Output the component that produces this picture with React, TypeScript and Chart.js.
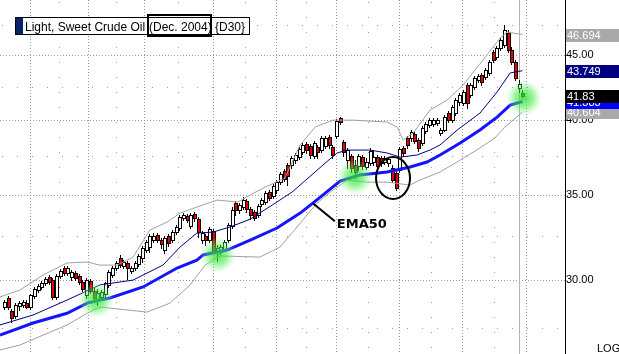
import React, { useEffect, useRef } from 'react';
import { Chart, registerables } from 'chart.js';
Chart.register(...registerables);

// ---- Daily candles (price) ----
const opens = [28.58,29.05,28.37,28.12,28.63,28.68,28.78,28.58,29.15,29.47,
29.63,29.84,30.17,30.00,29.10,30.22,30.66,30.39,30.17,30.39,
30.22,29.89,29.21,29.95,29.42,28.99,29.10,29.26,29.74,30.28,
30.66,31.21,30.77,30.94,30.50,30.66,30.88,31.21,31.67,31.84,
32.24,32.54,32.24,31.67,32.48,32.24,32.71,32.95,33.54,33.66,
33.07,33.79,33.48,32.24,32.48,32.24,32.77,31.56,31.56,31.73,
32.24,33.07,34.47,34.03,34.22,34.59,34.09,33.91,33.72,34.40,
34.53,35.15,34.90,35.28,35.79,36.51,36.91,36.91,37.24,37.44,
37.78,38.33,38.20,37.51,38.13,37.92,38.20,38.82,38.13,38.89,
40.17,38.47,37.24,37.51,36.91,36.84,37.44,36.78,37.04,37.11,
37.44,37.38,37.11,37.04,36.71,36.38,36.58,38.06,38.75,38.75,
39.03,38.61,38.40,39.24,39.67,39.74,39.81,39.10,39.31,40.53,
40.02,40.53,41.34,41.27,42.64,41.87,42.48,43.02,43.41,43.25,
43.57,45.24,44.83,45.57,45.82,46.82,45.40,44.43,42.41,42.02];
const closes = [28.84,28.58,28.02,28.68,28.78,28.84,28.58,29.21,29.52,29.68,
29.84,30.06,29.89,29.10,30.22,30.50,30.39,30.66,30.44,30.11,
29.89,29.52,30.00,29.42,29.05,29.31,29.36,29.84,30.44,30.66,
30.94,30.82,30.99,30.66,30.66,30.94,31.33,31.79,32.12,32.48,
32.48,32.24,32.01,32.36,32.07,32.71,33.01,33.60,33.72,33.42,
33.72,33.54,32.71,32.65,32.24,32.89,31.61,31.79,31.84,32.12,
33.12,34.03,34.03,34.34,34.65,34.09,33.72,33.54,34.28,34.65,
35.09,34.78,35.54,35.79,36.32,35.99,36.18,37.38,37.58,37.99,
38.27,37.92,37.58,38.40,37.78,38.75,38.75,38.27,37.58,39.95,
39.88,37.78,37.92,36.71,36.45,37.51,36.84,37.11,37.85,37.44,
36.84,37.04,37.38,37.31,35.92,35.41,37.99,37.72,38.27,39.17,
38.54,38.06,39.45,39.74,40.02,40.02,40.02,39.31,40.24,40.02,
40.97,41.49,41.87,42.10,41.27,42.64,43.18,43.33,42.87,43.80,
44.43,44.59,45.57,46.23,47.07,45.40,44.43,43.18,42.71,41.83];
const highs = [28.94,29.15,28.47,28.78,28.89,28.94,28.94,29.26,29.63,29.79,
29.95,30.17,30.28,30.11,30.33,30.61,30.77,30.77,30.55,30.50,
30.33,30.00,30.11,30.06,29.58,29.52,29.47,29.89,30.55,30.77,
31.05,31.39,31.10,31.04,30.77,31.05,31.44,31.90,32.24,32.59,
32.65,32.65,32.36,32.48,32.59,32.83,33.12,33.72,33.85,33.79,
33.85,33.91,33.60,32.77,32.59,33.01,32.89,31.96,31.96,32.24,
33.24,34.22,34.59,34.46,34.84,34.71,34.22,34.03,34.40,34.78,
35.22,35.28,35.66,35.92,36.45,36.65,37.04,37.51,37.72,38.13,
38.40,38.47,38.33,38.54,38.27,38.89,38.89,38.96,38.27,40.09,
40.24,38.61,38.06,37.65,37.24,37.65,37.58,37.38,38.06,37.92,
37.58,37.51,37.51,37.44,36.91,36.58,38.13,38.20,38.89,39.31,
39.17,38.75,39.59,39.88,40.17,40.17,40.17,39.45,40.39,40.68,
41.12,41.64,42.02,42.25,42.79,42.79,43.33,43.49,43.57,43.96,
44.59,45.40,45.73,46.40,47.50,47.07,45.65,44.59,43.02,42.25];
const lows = [28.47,28.47,27.82,28.02,28.42,28.58,28.52,28.47,29.05,29.36,
29.52,29.74,29.79,28.99,28.99,30.11,30.28,30.28,30.00,30.00,
29.79,29.42,29.05,29.31,28.84,28.68,28.99,29.10,29.63,30.17,
30.55,30.72,30.66,30.06,30.39,30.55,30.77,30.99,31.56,31.56,
32.12,32.12,31.79,31.50,31.90,32.12,32.59,32.83,33.42,33.30,
32.95,33.36,32.42,32.07,31.96,32.12,31.50,31.04,31.44,31.61,
32.12,32.95,33.72,33.85,34.09,33.91,33.48,33.42,33.60,34.28,
34.40,34.65,34.78,35.09,35.66,35.86,35.60,36.71,37.04,37.31,
37.65,37.72,37.38,37.38,37.38,37.78,38.06,38.06,37.38,38.75,
39.74,37.51,36.71,36.45,36.05,36.58,36.65,36.65,36.91,36.91,
36.71,36.84,36.98,36.84,35.79,35.28,36.45,37.51,38.06,38.54,
38.40,37.85,38.27,39.10,39.52,39.59,39.67,38.96,39.24,39.88,
39.88,40.39,41.12,41.12,40.90,41.72,42.33,42.87,42.64,43.10,
43.41,44.43,44.67,45.40,45.65,45.24,44.27,43.02,42.10,41.72];

// ---- Indicator lines (bar index, price) ----
const emaIdx = [-1.1,7.8,16.9,22.3,25.7,28.4,37.3,46.4,51.7,53.4,59.8,66,73.2,79.4,82.8,90.1,95.4,102.7,108.9,113.4,116.9,122.3,127.6,132.2,135.7,139];
const emaVal = [27.17,27.77,28.26,28.78,28.94,29.05,29.63,30.66,31.10,31.39,31.67,32.24,32.95,33.85,34.46,35.86,36.25,36.45,36.78,37.11,37.58,38.40,39.31,40.24,41.12,41.383];
const maIdx = [-1.1,7.8,16.9,25.7,34.6,42.6,47.2,51.7,56,60.6,66,71.9,77.2,83.4,86.1,89.3,92,98.1,102.7,106.2,110.7,114.2,116.9,121.5,127.6,132.2,135.7,139];
const maVal = [27.67,28.17,28.94,29.74,30.00,30.82,31.84,32.65,32.71,33.01,33.48,34.34,35.15,36.45,37.04,37.72,37.92,37.92,37.72,37.44,37.58,37.92,38.27,39.31,40.53,42.10,43.57,43.749];
const bbUpIdx = [-1.1,4.3,10.5,16.9,22.3,25.7,30.3,34.6,39.1,43.7,47.2,51.7,57.1,62.7,66,70,75.3,79.4,83.4,88.2,93.6,102.7,105.4,107,109.7,114.2,118.8,123.1,128.4,133,134.9,139];
const bbUpVal = [29.10,29.47,30.28,30.94,30.99,30.82,30.82,31.27,32.83,33.30,33.85,34.22,34.65,34.53,34.97,35.47,36.05,38.27,39.52,40.02,40.02,39.88,39.52,38.61,39.10,40.75,41.49,42.64,44.59,46.40,46.90,46.694];
const bbLoIdx = [-1.1,4.3,10.5,16.9,22.3,25.7,38.3,44.5,49.9,53.9,57.9,68.6,74,79.4,83.9,88.2,92,97.3,102.7,108.8,111.5,116.9,122.3,127.6,131.6,134.3,139];
const bbLoVal = [26.45,26.69,27.17,27.67,28.26,28.58,28.32,28.78,29.74,30.82,31.33,31.27,31.84,33.24,34.46,35.28,35.92,35.79,35.79,35.60,35.92,36.45,37.24,38.06,38.75,39.52,40.604];

// ---- Axis / grid ----
const yTicks = [30, 35, 40, 45];
const yMinor = [27.5, 32.5, 37.5, 42.5, 47.5];
const xGridIdx = [7, 22.5, 37.5, 56, 73, 89, 106, 122.8, 140];
const lastBarLineIdx = 138.1;

// ---- Annotations (bar index, price) ----
const glowIdx = [24.7, 57.4, 94.1, 139.4];
const glowVal = [28.94, 31.39, 36.12, 41.64];
const ellipseIdx = 104.3;
const ellipseVal = 36.05;
const emaLabelIdx = 82.8;
const emaLabelVal = 34.46;

// ---- Right-side value boxes ----
const valueBoxes = [
  { v: 40.604, text: '40.604', bg: '#a9a9a9' },
  { v: 41.383, text: '41.383', bg: '#0000ff' },
  { v: 41.83, text: '41.83', bg: '#000000' },
  { v: 43.749, text: '43.749', bg: '#000080' },
  { v: 46.694, text: '46.694', bg: '#a9a9a9' },
];

const SANS = '"Liberation Sans", Arial, sans-serif';

const pts = (xs: number[], ys: number[]) => xs.map((x, k) => ({ x, y: ys[k] }));

const backPlugin = {
  id: 'backLayer',
  beforeDatasetsDraw(chart: any) {
    const { ctx, chartArea: ca, scales } = chart;
    const x = scales.x, y = scales.y;
    ctx.save();
    ctx.beginPath();
    ctx.rect(ca.left, ca.top, ca.right - ca.left, ca.bottom - ca.top);
    ctx.clip();
    ctx.lineWidth = 1;
    ctx.strokeStyle = '#9a9a9a';
    ctx.setLineDash([1, 2]);
    for (const v of yTicks) {
      const py = Math.round(y.getPixelForValue(v)) + 0.5;
      ctx.beginPath(); ctx.moveTo(ca.left, py); ctx.lineTo(ca.right, py); ctx.stroke();
    }
    for (const g of xGridIdx) {
      const px = Math.round(x.getPixelForValue(g)) + 0.5;
      ctx.beginPath(); ctx.moveTo(px, ca.top); ctx.lineTo(px, ca.bottom); ctx.stroke();
    }
    ctx.setLineDash([1, 14]);
    for (const v of yMinor) {
      const py = Math.round(y.getPixelForValue(v)) + 0.5;
      ctx.beginPath(); ctx.moveTo(ca.left + 2, py); ctx.lineTo(ca.right, py); ctx.stroke();
    }
    for (let k = 0; k < xGridIdx.length - 1; k++) {
      const px = Math.round(x.getPixelForValue((xGridIdx[k] + xGridIdx[k + 1]) / 2)) + 0.5;
      ctx.beginPath(); ctx.moveTo(px, ca.top + 2); ctx.lineTo(px, ca.bottom); ctx.stroke();
    }
    ctx.setLineDash([]);
    ctx.strokeStyle = '#b4b4b4';
    const lx = Math.round(x.getPixelForValue(lastBarLineIdx)) + 0.5;
    ctx.beginPath(); ctx.moveTo(lx, ca.top); ctx.lineTo(lx, ca.bottom); ctx.stroke();

    // candles
    for (let i = 0; i < closes.length; i++) {
      const px = Math.round(x.getPixelForValue(i));
      const yh = Math.round(y.getPixelForValue(highs[i]));
      const yl = Math.round(y.getPixelForValue(lows[i]));
      const yo = Math.round(y.getPixelForValue(opens[i]));
      const yc = Math.round(y.getPixelForValue(closes[i]));
      ctx.fillStyle = '#000';
      ctx.fillRect(px, yh, 1, yl - yh + 1);
      const top = Math.min(yo, yc), bot = Math.max(yo, yc);
      ctx.fillRect(px - 1, top, 4, bot - top + 1);
      if (bot - top >= 2) {
        ctx.fillStyle = closes[i] >= opens[i] ? '#ffffff' : '#e60000';
        ctx.fillRect(px, top + 1, 2, bot - top - 1);
      }
    }
    ctx.restore();
  },
  afterDatasetsDraw(chart: any) {
    const { ctx, chartArea: ca, scales } = chart;
    const x = scales.x, y = scales.y;
    ctx.save();
    ctx.beginPath();
    ctx.rect(ca.left, ca.top, ca.right - ca.left, ca.bottom - ca.top);
    ctx.clip();
    // glows
    for (let k = 0; k < glowIdx.length; k++) {
      const cx = x.getPixelForValue(glowIdx[k]);
      const cy = y.getPixelForValue(glowVal[k]);
      const g = ctx.createRadialGradient(cx, cy, 0, cx, cy, 18);
      g.addColorStop(0, 'rgba(40,225,40,0.8)');
      g.addColorStop(0.5, 'rgba(70,235,70,0.55)');
      g.addColorStop(0.8, 'rgba(120,245,120,0.25)');
      g.addColorStop(1, 'rgba(160,255,160,0)');
      ctx.fillStyle = g;
      ctx.beginPath(); ctx.arc(cx, cy, 18, 0, Math.PI * 2); ctx.fill();
    }
    // ellipse
    const ex = x.getPixelForValue(ellipseIdx), ey = y.getPixelForValue(ellipseVal);
    ctx.strokeStyle = '#000'; ctx.lineWidth = 2;
    ctx.beginPath(); ctx.ellipse(ex, ey, 17, 21, 0, 0, Math.PI * 2); ctx.stroke();
    // EMA50 callout
    const ax = x.getPixelForValue(emaLabelIdx), ay = y.getPixelForValue(emaLabelVal);
    ctx.beginPath(); ctx.moveTo(ax, ay); ctx.lineTo(ax + 22, ay + 18); ctx.stroke();
    ctx.fillStyle = '#000';
    ctx.font = 'bold 13px "DejaVu Sans", Verdana, sans-serif';
    ctx.textBaseline = 'alphabetic';
    ctx.textAlign = 'left';
    ctx.fillText('EMA50', ax + 24, ay + 24.5);
    ctx.restore();
  },
  afterDraw(chart: any) {
    const { ctx, scales, chartArea: ca } = chart;
    const y = scales.y;
    ctx.save();
    // value boxes on the right axis
    ctx.font = '11px ' + SANS;
    ctx.textBaseline = 'middle';
    ctx.textAlign = 'left';
    for (const b of valueBoxes) {
      const cy = Math.round(y.getPixelForValue(b.v));
      ctx.fillStyle = b.bg;
      ctx.fillRect(ca.right + 1, cy - 6, chart.width - ca.right - 1, 13);
      ctx.fillStyle = '#fff';
      ctx.fillText(b.text, ca.right + 2, cy + 0.5);
    }
    // LOG
    ctx.fillStyle = '#000';
    ctx.textBaseline = 'alphabetic';
    ctx.fillText('LOG', 597, 352);
    // legend box
    ctx.fillStyle = '#fff';
    ctx.fillRect(16, 18, 233, 16);
    ctx.strokeStyle = '#000'; ctx.lineWidth = 1;
    ctx.strokeRect(15.5, 17.5, 234, 17);
    ctx.fillStyle = '#0a246a';
    ctx.fillRect(16, 18, 7, 16);
    ctx.fillStyle = '#000';
    ctx.font = '12px ' + SANS;
    ctx.fillText('Light, Sweet Crude Oil', 25, 31);
    ctx.fillText('(Dec. 2004)', 149, 31);
    ctx.fillText('{D30}', 215, 31);
    ctx.lineWidth = 2;
    ctx.strokeRect(148, 15, 63, 21);
    ctx.restore();
  },
};

export default function App() {
  const ref = useRef<HTMLCanvasElement | null>(null);
  useEffect(() => {
    document.body.style.margin = '0';
    const canvas = ref.current!;
    const ppu = 3.73;
    const xMin = -4 / ppu;
    const xMax = xMin + 565 / ppu;
    const chart = new Chart(canvas, {
      type: 'line',
      data: {
        datasets: [
          { label: 'BB upper', data: pts(bbUpIdx, bbUpVal), borderColor: '#a0a0a0', borderWidth: 1, pointRadius: 0, tension: 0 },
          { label: 'BB lower', data: pts(bbLoIdx, bbLoVal), borderColor: '#a0a0a0', borderWidth: 1, pointRadius: 0, tension: 0 },
          { label: 'MA20', data: pts(maIdx, maVal), borderColor: '#000080', borderWidth: 1, pointRadius: 0, tension: 0 },
          { label: 'EMA50', data: pts(emaIdx, emaVal), borderColor: '#1414ff', borderWidth: 3, pointRadius: 0, tension: 0 },
        ],
      },
      options: {
        animation: false,
        responsive: false,
        devicePixelRatio: 1,
        layout: { padding: 0 },
        plugins: { legend: { display: false }, tooltip: { enabled: false }, title: { display: false } },
        scales: {
          x: { type: 'linear', display: false, min: xMin, max: xMax },
          y: {
            type: 'logarithmic',
            position: 'right',
            min: 26.26,
            max: 49.69,
            afterBuildTicks: (s: any) => { s.ticks = yTicks.map((v) => ({ value: v })); },
            afterFit: (s: any) => { s.width = 54; s.paddingTop = 0; s.paddingBottom = 0; },
            grid: { display: false, drawTicks: false },
            border: { display: true, color: '#000', width: 1 },
            ticks: {
              color: '#000',
              padding: 1,
              autoSkip: false,
              font: { family: SANS, size: 11 },
              callback: (v: any) => Number(v).toFixed(2),
            },
          },
        },
      },
      plugins: [backPlugin],
    } as any);
    return () => chart.destroy();
  }, []);
  return (
    <div style={{ position: 'absolute', left: 0, top: 0, width: 619, height: 354, background: '#fff' }}>
      <canvas ref={ref} width={619} height={354} style={{ width: 619, height: 354, display: 'block' }} />
    </div>
  );
}
